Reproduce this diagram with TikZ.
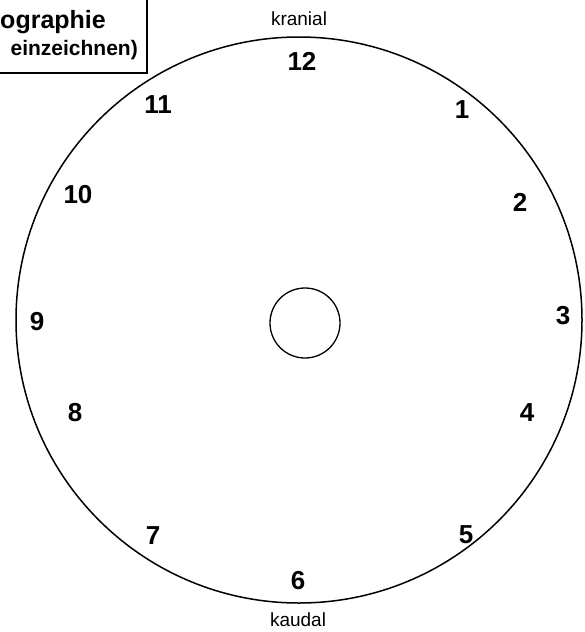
\documentclass[tikz,border=0pt]{standalone}
\usepackage{fontspec}
\setmainfont{Liberation Sans}
\usepackage{tikz}
\usetikzlibrary{positioning}

\tikzset{
    hour/.style={font=\fontsize{26}{26}\selectfont\bfseries, inner sep=0pt},
    side/.style={font=\fontsize{19}{19}\selectfont, inner sep=0pt, anchor=base}
}

\begin{document}
\begin{tikzpicture}[x=1pt, y=-1pt]
        % Page frame
        \useasboundingbox (0,0) rectangle (584,632);
        \clip (0,0) rectangle (584,632);

        % Title box, cut off at the page edge
        \draw[line width=1.5pt] (-200,-10) rectangle (147,73);
        \node[font=\fontsize{25}{25}\selectfont\bfseries, inner sep=0pt, anchor=base east] (title) at (106,28) {ographie};
        \node[font=\fontsize{21}{21}\selectfont\bfseries, inner sep=0pt, anchor=base east] (note) at (138,55) {einzeichnen)};

        % Clock face
        \coordinate (M) at (299,320);
        \filldraw[fill=white, line width=1.5pt] (M) circle (283);

        % Centre ring
        \draw[line width=1.3pt] (305,323) circle (35);

        % Orientation labels
        \node[side] (kranial) at (299,25) {kranial};
        \node[side] (kaudal) at (298,626) {kaudal};

        % Hour numbers
        \node[hour] (h12) at (302,61) {12};
        \node[hour] (h1) at (462,110) {1};
        \node[hour] (h2) at (520,202) {2};
        \node[hour] (h3) at (563,316) {3};
        \node[hour] (h4) at (527,413) {4};
        \node[hour] (h5) at (466,535) {5};
        \node[hour] (h6) at (298,581) {6};
        \node[hour] (h7) at (153,536) {7};
        \node[hour] (h8) at (75,413) {8};
        \node[hour] (h9) at (37,322) {9};
        \node[hour] (h10) at (78,195) {10};
        \node[hour] (h11) at (158,105) {11};
    \end{tikzpicture}
\end{document}
